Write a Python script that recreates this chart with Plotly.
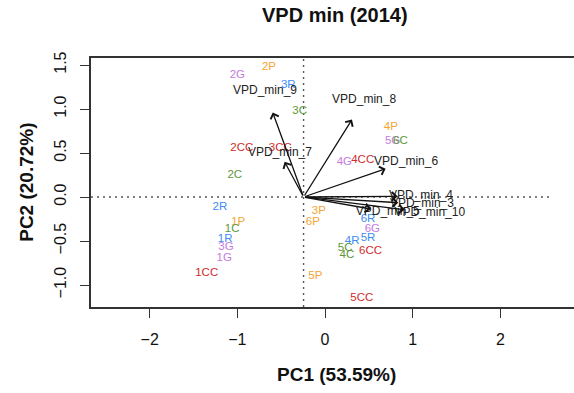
import plotly.graph_objects as go

# ---- sample scores (PC1, PC2) ----
samples = ['2G', '2P', '3R', '3C', '2CC', '3CC', '2C', '2R', '1P', '1C', '1R', '3G', '1G', '1CC',
           '3P', '6P', '5P', '4P', '5G', '6C', '4G', '4CC', '6R', '6G', '5R', '4R', '5C', '4C', '6CC', '5CC']
pc1 = [-1.00, -0.64, -0.42, -0.29, -0.95, -0.51, -1.03, -1.20, -0.99, -1.06, -1.14, -1.13, -1.15, -1.35,
       -0.07, -0.14, -0.11, 0.75, 0.77, 0.86, 0.22, 0.43, 0.49, 0.54, 0.49, 0.31, 0.23, 0.25, 0.52, 0.42]
pc2 = [1.39, 1.48, 1.27, 0.98, 0.56, 0.56, 0.25, -0.11, -0.28, -0.37, -0.48, -0.57, -0.70, -0.86,
       -0.16, -0.28, -0.90, 0.79, 0.64, 0.63, 0.40, 0.42, -0.25, -0.36, -0.47, -0.50, -0.58, -0.66, -0.61, -1.15]

# ---- variable loadings (label positions relative to the biplot origin) ----
variables = ['VPD_min_9', 'VPD_min_7', 'VPD_min_8', 'VPD_min_6', 'VPD_min_4', 'VPD_min_3', 'VPD_min_10', 'VPD_min_5']
load1 = [-0.44, -0.27, 0.69, 1.17, 1.34, 1.35, 1.44, 0.96]
load2 = [1.20, 0.50, 1.10, 0.40, 0.01, -0.08, -0.18, -0.17]
origin_x, origin_y = -0.245, 0.0

group_colors = {'P': '#F5A431', 'G': '#C57BDF', 'R': '#3D8CF2', 'C': '#5E9736', 'CC': '#CF2B2B'}
colors = [group_colors[s.lstrip('0123456789')] for s in samples]

FONT = 'Liberation Sans, Arial, sans-serif'

fig = go.Figure()

# dotted reference lines through the origin
fig.add_shape(type='line', xref='x', yref='paper', x0=origin_x, x1=origin_x, y0=0, y1=1,
              line=dict(color='#555555', width=1.4, dash='2px,4px'), layer='below')
fig.add_shape(type='line', xref='paper', yref='y', x0=0, x1=0.955, y0=origin_y, y1=origin_y,
              line=dict(color='#555555', width=1.4, dash='2px,4px'), layer='below')

# sample labels
fig.add_trace(go.Scatter(x=pc1, y=pc2, mode='text', text=samples,
                         textfont=dict(family=FONT, size=11.5, color=colors),
                         hoverinfo='skip', showlegend=False, cliponaxis=False))

# arrows to 0.8 of the loading, labels at the loading
for v, a, b in zip(variables, load1, load2):
    fig.add_annotation(x=origin_x + 0.8 * a, y=origin_y + 0.8 * b, ax=origin_x, ay=origin_y,
                       xref='x', yref='y', axref='x', ayref='y', text='', showarrow=True,
                       arrowhead=4, arrowsize=1.3, arrowwidth=1.3, arrowcolor='#111111', standoff=0)

fig.add_trace(go.Scatter(x=[origin_x + a for a in load1], y=[origin_y + b for b in load2],
                         mode='text', text=variables,
                         textfont=dict(family=FONT, size=12, color='#222222'),
                         hoverinfo='skip', showlegend=False, cliponaxis=False))

# titles
fig.add_annotation(text='<b>VPD min (2014)</b>', xref='paper', yref='paper', x=0.505, y=1.173,
                   showarrow=False, font=dict(family=FONT, size=20, color='#111111'),
                   xanchor='center', yanchor='middle')
fig.add_annotation(text='<b>PC1 (53.59%)</b>', xref='paper', yref='paper', x=0.509, y=-0.273,
                   showarrow=False, font=dict(family=FONT, size=19, color='#111111'),
                   xanchor='center', yanchor='middle')
fig.add_annotation(text='<b>PC2 (20.72%)</b>', xref='paper', yref='paper', x=-0.135, y=0.502,
                   showarrow=False, textangle=-90, font=dict(family=FONT, size=19, color='#111111'),
                   xanchor='center', yanchor='middle')

fig.update_xaxes(range=[-2.67, 2.84], tickvals=[-2, -1, 0, 1, 2], ticks='outside', ticklen=9,
                 tickwidth=1.4, tickcolor='#333333', showline=True, linecolor='#333333', linewidth=1.6,
                 mirror=True, showgrid=False, zeroline=False,
                 tickfont=dict(family=FONT, size=16, color='#111111'), ticklabelstandoff=8)
fig.update_yaxes(range=[-1.25, 1.58], tickvals=[-1.0, -0.5, 0.0, 0.5, 1.0, 1.5],
                 ticktext=['\u22121.0', '\u22120.5', '0.0', '0.5', '1.0', '1.5'],
                 ticks='outside', ticklen=9, tickwidth=1.4, tickcolor='#333333', tickangle=-90,
                 showline=True, linecolor='#333333', linewidth=1.6, mirror=False,
                 showgrid=False, zeroline=False,
                 tickfont=dict(family=FONT, size=16, color='#111111'), ticklabelstandoff=8)

fig.update_layout(width=574, height=393, margin=dict(l=91, r=0, t=58, b=86),
                  paper_bgcolor='white', plot_bgcolor='white', showlegend=False)

fig.write_html('out.html')
